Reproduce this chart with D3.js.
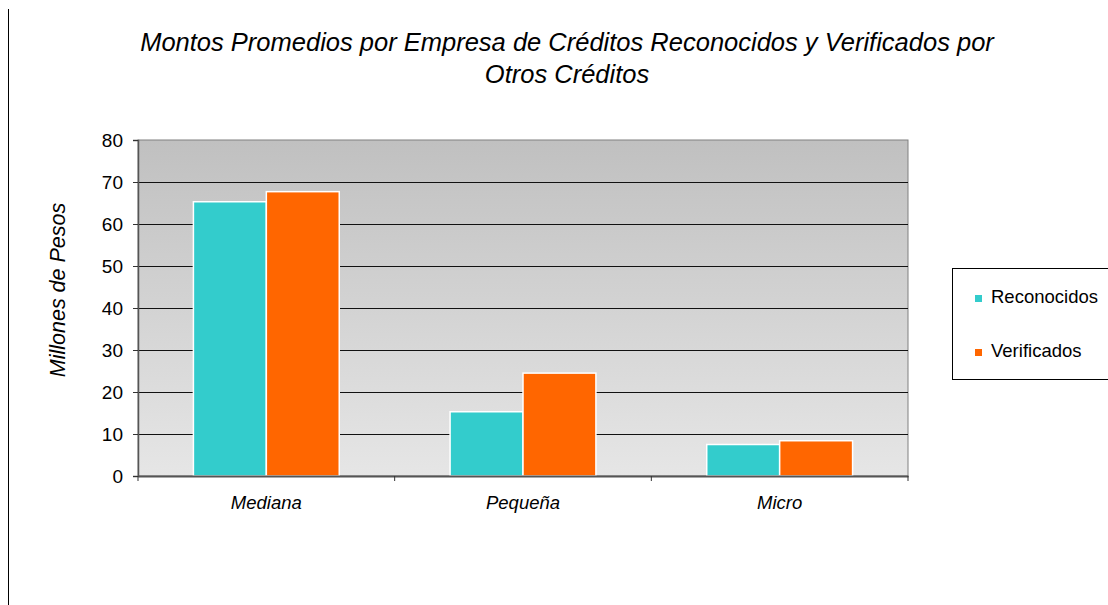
<!DOCTYPE html>
<html><head><meta charset="utf-8">
<script src="https://cdn.jsdelivr.net/npm/d3@7"></script>
<style>body{margin:0;background:#fff}svg{display:block}text{font-family:"Liberation Sans",Arial,sans-serif}</style>
</head><body>
<svg id="c" width="1108" height="605"></svg>
<script>
const categories = ["Mediana", "Pequeña", "Micro"];
const seriesNames = ["Reconocidos", "Verificados"];
const reconocidos = [65.3, 15.3, 7.5];
const verificados = [67.7, 24.5, 8.4];
const yTicks = [0, 10, 20, 30, 40, 50, 60, 70, 80];
const colors = ["#33CCCC", "#FF6600"];
const titleLines = ["Montos Promedios por Empresa de Créditos Reconocidos y Verificados por", "Otros Créditos"];
const yLabel = "Millones de Pesos";

const svg = d3.select("#c");
const L = 138, R = 908, T = 140, B = 476;
const x = d3.scaleBand().domain(categories).range([L, R]).paddingInner(0).paddingOuter(0);
const y = d3.scaleLinear().domain([0, 80]).range([B, T]);
const xs = d3.scaleBand().domain(seriesNames).range([0, x.bandwidth()]).paddingInner(0).paddingOuter(0.76);

// left border line
svg.append("line").attr("x1", 8.5).attr("x2", 8.5).attr("y1", 9).attr("y2", 605).attr("stroke", "#000").attr("stroke-width", 1);

// background gradient
const defs = svg.append("defs");
const g = defs.append("linearGradient").attr("id", "bg").attr("x1", 0).attr("y1", 0).attr("x2", 0).attr("y2", 1);
g.append("stop").attr("offset", "0%").attr("stop-color", "#c0c0c0");
g.append("stop").attr("offset", "100%").attr("stop-color", "#e6e6e6");
svg.append("rect").attr("x", L).attr("y", T).attr("width", R - L).attr("height", B - T).attr("fill", "url(#bg)").attr("stroke", "#808080").attr("stroke-width", 1);

// gridlines
svg.append("g").selectAll("line").data(yTicks.filter(d => d > 0 && d < 80)).join("line")
  .attr("x1", L).attr("x2", R).attr("y1", d => Math.round(y(d)) + 0.5).attr("y2", d => Math.round(y(d)) + 0.5)
  .attr("stroke", "#111").attr("stroke-width", 1.2);

// bars
const data = categories.map((c, i) => ({c, vals: [reconocidos[i], verificados[i]]}));
const grp = svg.append("g").selectAll("g").data(data).join("g").attr("transform", d => `translate(${x(d.c)},0)`);
grp.selectAll("rect").data(d => d.vals.map((v, j) => ({s: seriesNames[j], v, j}))).join("rect")
  .attr("x", d => xs(d.s)).attr("width", xs.bandwidth())
  .attr("y", d => y(d.v)).attr("height", d => y(0) - y(d.v))
  .attr("fill", d => colors[d.j]).attr("stroke", "#fff").attr("stroke-width", 1.5);

// y axis
const yAxis = svg.append("g").attr("transform", `translate(${L},0)`)
  .call(d3.axisLeft(y).tickValues(yTicks).tickSize(5).tickPadding(10).tickFormat(d3.format("d")));
yAxis.attr("font-size", null);
yAxis.select(".domain").attr("stroke", "#555").attr("stroke-width", 1.5);
yAxis.selectAll(".tick line").attr("stroke", "#333");
yAxis.selectAll("text").style("font-size", "19px").attr("fill", "#000").style("font-family", "'Liberation Sans',Arial,sans-serif")
  .attr("dy", "0.35em");

// x axis
const xAxis = svg.append("g").attr("transform", `translate(0,${B})`)
  .call(d3.axisBottom(x).tickSize(0).tickPadding(20));
xAxis.attr("font-size", null);
xAxis.select(".domain").attr("stroke", "#555").attr("stroke-width", 2);
xAxis.selectAll("text").style("font-size", "18.5px").attr("fill", "#000").attr("font-style", "italic").style("font-family", "'Liberation Sans',Arial,sans-serif");
// category separator ticks
svg.append("g").selectAll("line").data([L, x(categories[1]), x(categories[2]), R]).join("line")
  .attr("x1", d => d).attr("x2", d => d).attr("y1", B).attr("y2", B + 5).attr("stroke", "#333");

// title
svg.append("g").selectAll("text").data(titleLines).join("text")
  .attr("x", 567).attr("y", (d, i) => 51 + i * 32).attr("text-anchor", "middle")
  .style("font-size", "25.5px").attr("font-style", "italic").attr("fill", "#000").text(d => d);

// y label
svg.append("text").attr("transform", "translate(65,290) rotate(-90)").attr("text-anchor", "middle")
  .style("font-size", "21.5px").attr("font-style", "italic").attr("fill", "#000").text(yLabel);

// legend
const lg = svg.append("g");
lg.append("rect").attr("x", 952.5).attr("y", 268.5).attr("width", 170).attr("height", 111).attr("fill", "#fff").attr("stroke", "#000").attr("stroke-width", 1);
const li = lg.selectAll("g").data(seriesNames).join("g").attr("transform", (d, i) => `translate(0,${303 + i * 54})`);
li.append("rect").attr("x", 975).attr("y", -8).attr("width", 7).attr("height", 7).attr("fill", (d, i) => colors[i]);
li.append("text").attr("x", 991).attr("y", 0).style("font-size", "18.5px").attr("fill", "#000").text(d => d);
</script>
</body></html>
